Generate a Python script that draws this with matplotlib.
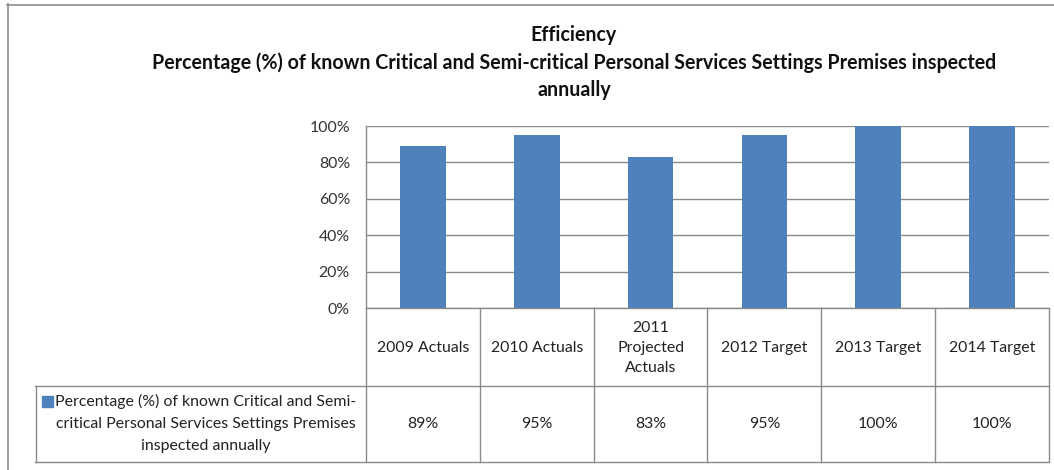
import matplotlib
matplotlib.use("Agg")
import matplotlib.pyplot as plt
from matplotlib.patches import Rectangle
from matplotlib.transforms import blended_transform_factory
from matplotlib.ticker import PercentFormatter

# ---- data ----
categories = ["2009 Actuals", "2010 Actuals", "2011\nProjected\nActuals",
              "2012 Target", "2013 Target", "2014 Target"]
values = [0.89, 0.95, 0.83, 0.95, 1.00, 1.00]
value_labels = ["89%", "95%", "83%", "95%", "100%", "100%"]
series_name = ["Percentage (%) of known Critical and Semi-",
               "critical Personal Services Settings Premises",
               "inspected annually"]
title_lines = ["Efficiency",
               "Percentage (%) of known Critical and Semi-critical Personal Services Settings Premises inspected",
               "annually"]
y_ticks = [0, 0.2, 0.4, 0.6, 0.8, 1.0]

# ---- style ----
W, H = 1054, 470
BAR = "#4F81BD"
GRID = "#8A8A8A"
TXT = "#222222"
FS = 11.4
plt.rcParams["font.family"] = ["Lato", "DejaVu Sans"]

fig = plt.figure(figsize=(W / 100, H / 100), dpi=100)
fig.patch.set_facecolor("white")


def fy(py):
    return 1 - py / H


def fx(px):
    return px / W


# outer chart frame (top and left edges visible)
fig.add_artist(plt.Line2D([fx(7), 1.0], [fy(4.5), fy(4.5)], transform=fig.transFigure,
                          color="#8C8C8C", lw=1.2))
fig.add_artist(plt.Line2D([fx(7.5), fx(7.5)], [fy(4), 0.0], transform=fig.transFigure,
                          color="#8C8C8C", lw=1.2))

# plot area
left, right, top, bottom = 366, 1049, 126, 308
ax = fig.add_axes([fx(left), fy(bottom), fx(right) - fx(left), fy(top) - fy(bottom)])
x = list(range(len(categories)))
ax.bar(x, values, width=0.4, color=BAR, zorder=3)
ax.set_xlim(-0.5, len(categories) - 0.5)
ax.set_ylim(0, 1)
ax.set_yticks(y_ticks)
ax.yaxis.set_major_formatter(PercentFormatter(1.0, decimals=0))
ax.tick_params(axis="y", length=0, pad=11.5, labelsize=FS, labelcolor="#333333")
ax.tick_params(axis="x", length=0, labelbottom=False)
ax.grid(axis="y", color=GRID, lw=1.0, zorder=0)
for s in ["top", "right", "bottom"]:
    ax.spines[s].set_visible(False)
ax.spines["left"].set_color(GRID)
ax.spines["left"].set_linewidth(1.0)

# title
title_y = [35, 63, 90]
for t, ty in zip(title_lines, title_y):
    fig.text(fx(574), fy(ty), t, ha="center", va="center", fontsize=14.1,
             fontweight="bold", color="#111111")

# ---- data table below the axis ----
tab_left, hdr_bot, tab_bot = 35, 386, 462
blend = blended_transform_factory(ax.transData, fig.transFigure)
n = len(categories)

# column dividers from the category boundaries
for k in range(n + 1):
    ax.add_line(plt.Line2D([k - 0.5, k - 0.5], [fy(bottom), fy(tab_bot)], transform=blend,
                           color=GRID, lw=1.0, clip_on=False))
# horizontal rules
ax.add_line(plt.Line2D([-0.5, n - 0.5], [fy(bottom), fy(bottom)], transform=blend,
                       color=GRID, lw=1.0, clip_on=False, zorder=4))
for yy in (hdr_bot, tab_bot):
    fig.add_artist(plt.Line2D([fx(tab_left), fx(right)], [fy(yy), fy(yy)],
                              transform=fig.transFigure, color=GRID, lw=1.0))
fig.add_artist(plt.Line2D([fx(tab_left + 0.5), fx(tab_left + 0.5)], [fy(hdr_bot), fy(tab_bot)],
                          transform=fig.transFigure, color=GRID, lw=1.0))

hdr_mid = (bottom + hdr_bot) / 2 + 1
row_mid = (hdr_bot + tab_bot) / 2
for k, (c, v) in enumerate(zip(categories, value_labels)):
    ax.text(k, fy(hdr_mid), c, transform=blend, ha="center", va="center",
            fontsize=FS, color=TXT, linespacing=1.55)
    ax.text(k, fy(row_mid), v, transform=blend, ha="center", va="center",
            fontsize=FS, color=TXT)

# series name with legend key
name_cx = 206
name_y = [401, 424, 446]
txts = []
for line, ly in zip(series_name, name_y):
    txts.append(fig.text(fx(name_cx), fy(ly), line, ha="center", va="center",
                         fontsize=FS, color=TXT))
fig.canvas.draw()
bb = txts[0].get_window_extent()
key = 11
fig.add_artist(Rectangle((fx(bb.x0 - key - 2), fy(name_y[0] + key / 2)), key / W, key / H,
                         transform=fig.transFigure, color=BAR))

fig.savefig("out.png", dpi=100, facecolor="white")
